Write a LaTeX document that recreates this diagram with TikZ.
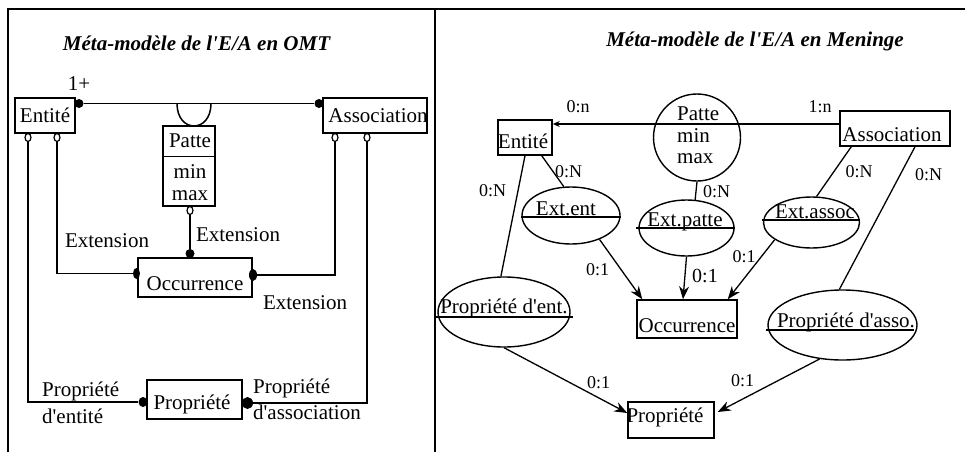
\documentclass[tikz,border=0pt]{standalone}
\usepackage{fontspec}
\setmainfont{Liberation Serif}
\usetikzlibrary{arrows.meta,shapes.geometric,calc}
\newcommand{\ap}{\textquotesingle}

\begin{document}
\begin{tikzpicture}[x=1pt,y=-1pt,
  lbl/.style={font=\fontsize{21}{24}\selectfont, inner sep=0pt, anchor=base},
  lbll/.style={lbl, anchor=base west},
  card/.style={font=\fontsize{18}{21}\selectfont, inner sep=0pt, anchor=base},
  ttl/.style={font=\fontsize{21}{24}\selectfont\bfseries\itshape, inner sep=0pt, anchor=base},
  box/.style={draw, line width=1.5pt, inner sep=0pt},
  oval/.style={draw, ellipse, line width=1.4pt, inner sep=0pt},
  wire/.style={line width=1.5pt},
  thin wire/.style={line width=1.3pt},
  fdot/.style={fill, ellipse, inner sep=0pt},
  odot/.style={draw, fill=white, ellipse, line width=1.2pt, inner sep=0pt,
               minimum width=6pt, minimum height=8pt},
  tip/.style={-{Stealth[length=13pt,width=10pt]}},
]
\useasboundingbox (0,0) rectangle (965,452);

% frame and panel divider
\draw[line width=2.6pt] (8,452) -- (8,9) -- (965,9);
\draw[line width=2.4pt] (435,9) -- (435,452);

% ---------------- OMT panel ----------------
\node[ttl] (ttlL) at (196.5,50) {Méta-modèle de l\ap E/A en OMT};

\node[box, minimum width=60pt, minimum height=35pt] (entL) at (45,115.5) {};
\node[lbl] (entLt) at (45,122) {Entité};
\node[box, minimum width=104pt, minimum height=35pt] (ascL) at (375,115.5) {};
\node[lbl] (ascLt) at (378,122) {Association};

\node[box, minimum width=52pt, minimum height=80pt] (patL) at (189,166) {};
\draw[wire] ($(patL.north west)+(0,31)$) -- ($(patL.north east)+(-2,31)$);
\node[lbl] (patLt) at (190,147) {Patte};
\node[lbl] (patLmin) at (190,178) {min};
\node[lbl] (patLmax) at (190,200) {max};

\node[box, minimum width=114pt, minimum height=39pt] (occL) at (195,277.5) {};
\node[lbl] (occLt) at (195,290) {Occurrence};
\node[box, minimum width=95pt, minimum height=39pt] (propL) at (194.5,399.5) {};
\node[lbl] (propLt) at (192,409) {Propriété};

% role ends
\node[fdot, minimum width=9pt, minimum height=9pt] (dEnt) at (79,103.5) {};
\node[fdot, minimum width=9pt, minimum height=9pt] (dAsc) at (319,103.5) {};
\node[odot] (oE1) at (28,137.5) {};
\node[odot] (oE2) at (57,137.5) {};
\node[odot] (oA1) at (335,137.5) {};
\node[odot] (oA2) at (367,137.5) {};
\node[odot] (oP) at (190,210.5) {};
\node[fdot, minimum width=9pt, minimum height=9pt] (dOtop) at (190,253.5) {};
\node[fdot, minimum width=7pt, minimum height=11pt] (dOl) at (136.5,273.5) {};
\node[fdot, minimum width=8pt, minimum height=12pt] (dOr) at (253,275) {};
\node[fdot, minimum width=9pt, minimum height=10pt] (dPl) at (143,402) {};
\node[fdot, minimum width=11pt, minimum height=12pt] (dPr) at (247.5,403) {};

% links
\draw[wire] (dEnt) -- (dAsc);
\draw[wire] (177,103.5) .. controls (177,133.5) and (211,133.5) .. (211,103.5);
\draw[wire] (oP.south) -- (dOtop);
\draw[wire] (oE2.south) |- (dOl);
\draw[wire] (oA1.south) |- (dOr);
\draw[wire] (oE1.south) |- (dPl);
\draw[wire] (oA2.south) |- (dPr);

\node[lbl] (one) at (79,90) {1+};
\node[lbl] (extA) at (107,247) {Extension};
\node[lbl] (extB) at (238,241) {Extension};
\node[lbl] (extC) at (305,309) {Extension};
\node[lbll] (peA) at (42,396) {Propriété};
\node[lbll] (peB) at (42,423) {d\ap entité};
\node[lbll] (paA) at (253,393) {Propriété};
\node[lbll] (paB) at (253,419) {d\ap association};

% ---------------- Meninge panel ----------------
\node[ttl] (ttlR) at (755,46) {Méta-modèle de l\ap E/A en Meninge};

\node[box, minimum width=54pt, minimum height=35pt] (entR) at (525,137.5) {};
\node[lbl] (entRt) at (523,148) {Entité};
\node[box, minimum width=110pt, minimum height=35pt] (ascR) at (895,128.5) {};
\node[lbl] (ascRt) at (892,141) {Association};

\node[draw, circle, line width=1.4pt, minimum size=87pt, inner sep=0pt] (patR) at (697,137.5) {};
\node[lbll] (patRt) at (677,120) {Patte};
\node[lbll] (patRmin) at (677,142) {min};
\node[lbll] (patRmax) at (677,163) {max};

\node[oval, minimum width=98pt, minimum height=57pt] (xent) at (571,215.5) {};
\node[lbl] (xentt) at (566,215) {Ext.ent};
\draw[thin wire] ([yshift=-1.5pt]xent.west) -- ([yshift=-1.5pt]xent.east);

\node[oval, minimum width=95pt, minimum height=56pt] (xpat) at (686.5,228) {};
\node[lbl] (xpatt) at (685,226) {Ext.patte};
\draw[thin wire] ([xshift=-2pt]xpat.west) -- (xpat.east);

\node[oval, minimum width=96pt, minimum height=51pt] (xasc) at (811.5,222.5) {};
\node[lbl] (xasct) at (815,218) {Ext.assoc};
\draw[thin wire] ([yshift=2.5pt, xshift=-1pt]xasc.west) -- ([yshift=2.5pt]xasc.east);

\node[oval, minimum width=132pt, minimum height=70pt] (pent) at (504,312) {};
\node[lbl] (pentt) at (504,313) {Propriété d\ap ent.};
\draw[thin wire] ([yshift=-5pt, xshift=-1pt]pent.west) -- ([yshift=-5pt, xshift=2pt]pent.east);

\node[oval, minimum width=149pt, minimum height=70pt] (pasc) at (842.5,325) {};
\node[lbl] (pasct) at (846,327) {Propriété d\ap asso.};
\draw[thin wire] ([yshift=-5pt, xshift=-1pt]pasc.west) -- ([yshift=-5pt, xshift=-4pt]pasc.east);

\node[box, minimum width=100pt, minimum height=38pt] (occR) at (687,319) {};
\node[lbl] (occRt) at (687,332) {Occurrence};
\node[box, minimum width=86pt, minimum height=36pt] (propR) at (671,420) {};
\node[lbl] (propRt) at (665,422) {Propriété};

% links
\draw[thin wire, -{Stealth[length=7pt,width=6pt]}] ([yshift=4.5pt]ascR.west) -- ([yshift=4.5pt]ascR.west -| entR.east);
\draw[thin wire] ([xshift=-11pt]entR.south east) -- (xent.104);
\draw[thin wire] (entR.south) -- (pent.95);
\draw[thin wire] ([xshift=12pt]ascR.south west) -- (xasc.79);
\draw[thin wire] ([xshift=20pt]ascR.south) -- (pasc.95);
\draw[thin wire] (patR.south) -- (xpat.73);
\draw[thin wire, tip] (xent.-40) -- ([xshift=6pt]occR.north west);
\draw[thin wire, tip] (xpat.south) -- ([xshift=-4pt]occR.north);
\draw[thin wire, tip] (xasc.205) -- ([xshift=-10pt]occR.north east);
\draw[thin wire, tip] (pent.south) -- ([yshift=7pt]propR.west);
\draw[thin wire, tip] (pasc.236) -- ([xshift=3pt, yshift=8pt]propR.east);

% cardinalities
\node[card] (c1) at (578,112) {0:n};
\node[card] (c2) at (820,112) {1:n};
\node[card] (c3) at (716.5,197) {0:N};
\node[card] (c4) at (568.5,177) {0:N};
\node[card] (c5) at (492.5,196) {0:N};
\node[card] (c6) at (859,177) {0:N};
\node[card] (c7) at (928.5,180) {0:N};
\node[card] (c8) at (597.5,275) {0:1};
\node[card, font=\fontsize{20}{23}\selectfont] (c9) at (705,282) {0:1};
\node[card] (c10) at (744,262) {0:1};
\node[card] (c11) at (598.5,388) {0:1};
\node[card] (c12) at (742.5,386) {0:1};
\end{tikzpicture}
\end{document}
